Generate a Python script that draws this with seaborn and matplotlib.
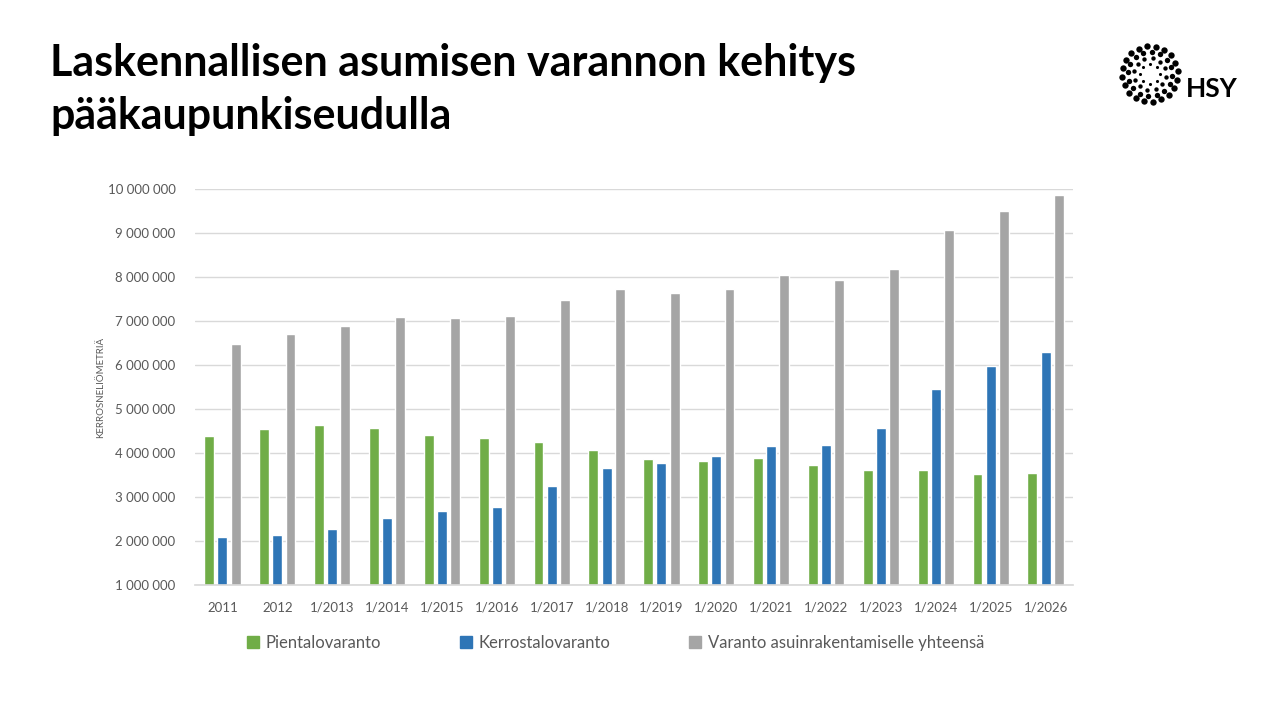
import numpy as np
import pandas as pd
import matplotlib
matplotlib.use("Agg")
import matplotlib.pyplot as plt
from matplotlib.ticker import FuncFormatter
import seaborn as sns

# data (kerrosneliömetriä)
periods = ["2011", "2012", "1/2013", "1/2014", "1/2015", "1/2016", "1/2017", "1/2018",
           "1/2019", "1/2020", "1/2021", "1/2022", "1/2023", "1/2024", "1/2025", "1/2026"]
pientalo = [4390000, 4550000, 4640000, 4570000, 4410000, 4340000, 4250000, 4070000,
            3860000, 3820000, 3890000, 3730000, 3610000, 3610000, 3520000, 3550000]
kerrostalo = [2090000, 2140000, 2270000, 2520000, 2680000, 2770000, 3250000, 3660000,
              3770000, 3930000, 4160000, 4180000, 4570000, 5450000, 5980000, 6300000]
yhteensa = [6480000, 6700000, 6890000, 7090000, 7070000, 7110000, 7480000, 7730000,
            7640000, 7730000, 8050000, 7930000, 8180000, 9070000, 9500000, 9860000]
series = ["Pientalovaranto", "Kerrostalovaranto", "Varanto asuinrakentamiselle yhteensä"]
colors = ["#70AD47", "#2E75B6", "#A5A5A5"]

df = pd.DataFrame({
    "kausi": periods * 3,
    "arvo": pientalo + kerrostalo + yhteensa,
    "sarja": [series[0]] * 16 + [series[1]] * 16 + [series[2]] * 16,
})

sns.set_theme(style="white")
plt.rcParams["font.family"] = ["Lato", "DejaVu Sans"]

fig = plt.figure(figsize=(12.8, 7.2), dpi=100)
ax = fig.add_axes([195 / 1280, 1 - 585 / 720, 878 / 1280, 396 / 720])

sns.barplot(data=df, x="kausi", y="arvo", hue="sarja", palette=colors,
            width=0.72, gap=0.25, ax=ax, legend=False, saturation=1)

ax.set_ylim(1000000, 10000000)
ax.set_yticks(np.arange(1000000, 10000001, 1000000))
ax.yaxis.set_major_formatter(FuncFormatter(lambda v, p: f"{int(v):,}".replace(",", " ")))
ax.grid(axis="y", color="#D9D9D9", linewidth=1)
ax.set_axisbelow(True)
for s in ["top", "right", "left"]:
    ax.spines[s].set_visible(False)
ax.spines["bottom"].set_color("#D9D9D9")
ax.tick_params(axis="both", length=0, labelsize=9.5, labelcolor="#595959")
ax.tick_params(axis="x", pad=12)
ax.tick_params(axis="y", pad=14)
ax.set_xlabel("")
ax.set_ylabel("KERROSNELIÖMETRIÄ", fontsize=7, color="#595959", labelpad=2)

# legend
handles = [plt.Rectangle((0, 0), 1, 1, color=c) for c in colors]
fig.legend(handles, series, loc="center left", bbox_to_anchor=(232 / 1280, 1 - 643 / 720),
           ncol=3, frameon=False, fontsize=12, labelcolor="#595959",
           handlelength=0.7, handleheight=0.7, handletextpad=0.4, columnspacing=4.75)

# title
fig.text(50 / 1280, 1 - 63 / 720, "Laskennallisen asumisen varannon kehitys",
         fontsize=31, fontweight="bold", color="black", va="center", ha="left")
fig.text(50 / 1280, 1 - 116 / 720, "pääkaupunkiseudulla",
         fontsize=31, fontweight="bold", color="black", va="center", ha="left")

# HSY logo
lax = fig.add_axes([1118 / 1280, 1 - 106 / 720, 64 / 1280, 64 / 720])
lax.set_xlim(-1.1, 1.1)
lax.set_ylim(-1.1, 1.1)
lax.set_aspect("equal")
lax.axis("off")
rings = [(0.36, 8, 5), (0.56, 12, 10), (0.76, 16, 15), (0.96, 20, 21)]
for k, (r, n, sz) in enumerate(rings):
    ang = np.linspace(0, 2 * np.pi, n, endpoint=False) + k * 0.35
    lax.scatter(r * np.cos(ang), r * np.sin(ang), s=sz, color="black", marker="o", lw=0)
fig.text(1186 / 1280, 1 - 89 / 720, "HSY", fontsize=19, fontweight="bold",
         color="black", va="center", ha="left")

fig.savefig("out.png", dpi=100)
